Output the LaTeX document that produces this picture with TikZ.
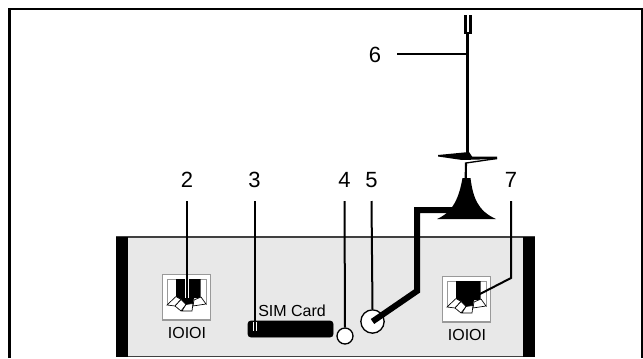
\documentclass[tikz,border=0pt]{standalone}
\usepackage{fontspec}
\setmainfont{Liberation Sans}
\definecolor{panelgray}{HTML}{E8E8E8}
\definecolor{jackgray}{HTML}{999999}
\tikzset{%
  leader/.style = {line width=1.5pt},
  halo/.style = {white,line width=3pt},
  num/.style = {inner sep=0pt,font=\fontsize{16.5}{16.5}\selectfont},
  small/.style = {inner sep=0pt,font=\fontsize{12}{12}\selectfont},
  band/.style = {fill=black,draw=none},
  jackbox/.style = {draw=jackgray,fill=white,line width=0.8pt},
  contact/.style = {fill=white,line width=0.5pt},
  led/.style = {circle,draw,fill=white,line width=1pt,inner sep=0pt}
}

\begin{document}
\begin{tikzpicture}[x=0.75pt,y=-0.75pt]
   \useasboundingbox (0,0) rectangle (643,358);
   % frame
   \draw[line width=1.6pt] (9.5,358) -- (9.5,9) -- (642,9) -- (642,358);
   % housing
   \fill[panelgray] (116,237) rectangle (535,356.5);
   \draw[line width=1.2pt,black!75] (116,237) -- (535,237);
   \draw[line width=0.8pt,black!75] (116,356.5) -- (535,356.5);
   \fill[band] (116,237) rectangle (128,357);
   \fill[band] (523,237) rectangle (535,357);
   % sockets
   \foreach \name/\dx/\dy in {left/0/0,right/280/2}{
     \begin{scope}[shift={(\dx,\dy)}]
       \draw[jackbox] (162.5,274.5) rectangle (210.5,320);
       \draw[jackgray,line width=0.5pt] (167,305) -- (167,279) -- (206,279) -- (206,305);
       \fill (176,279) -- (200.5,279) -- (200.5,298) -- (194,298)
          -- (193,303.5) -- (185,305) -- (181,299) -- (176,297) -- cycle;
       \draw[contact] (176,296.5) -- (167,305) -- (175,306) -- (181,299.5) -- cycle;
       \draw[contact] (181,299.5) -- (175,306) -- (181,311) -- (186,304.5) -- cycle;
       \draw[contact] (186,304.5) -- (182,311) -- (192,311) -- (193,303.5) -- cycle;
       \draw[contact] (194,300) -- (193,306) -- (206,304) -- (201,297) -- cycle;
       \node[small] (io-\name) at (187,333) {IOIOI};
     \end{scope}
   }
   % sim slot
   \node[small,anchor=base west] (simtext) at (258,316) {SIM Card};
   \draw[fill=black,rounded corners=2pt] (248,321) rectangle (333,337);
   \coordinate (slot) at (255,331);
   % cable and aerial foot
   \node[led,minimum size=17.5pt] (five) at (372.5,321.5) {};
   \node[led,minimum size=12pt] (four) at (345,336) {};
   \coordinate (foot) at (462,210);
   \draw[line width=4.5pt,miter limit=10] (five.center) -- (417,291) -- (417,210) -- (foot);
   \fill (462.5,178) -- (470.5,178) .. controls (473,198) and (478,211) .. (496,219)
      -- (437,219) .. controls (453,212) and (459,198) .. (462.5,178) -- cycle;
   % aerial
   \coordinate (tipend) at (467.5,34);
   \coordinate (breaktop) at (467.5,153);
   \coordinate (breakbot) at (465.7,178);
   \draw[line width=1.6pt] (465.5,15) -- (465.5,33) -- (470.5,33) -- (470.5,15);
   \draw[line width=1.6pt] (tipend) -- (breaktop);
   \fill (469,152) -- (438,155) -- (438,156.5) -- (462,160) -- (497,159)
      -- (497,156.5) -- (472,156.5) -- cycle;
   \draw[line width=1pt] (497,158.5) -- (466,163);
   \draw[line width=1.6pt] (466,162.5) -- (breakbot);
   % leaders
   \node[num] (two) at (187,180) {2};
   \node[num] (three) at (254.5,180) {3};
   \node[num] (fourlab) at (344.5,180) {4};
   \node[num] (fivelab) at (371.5,180) {5};
   \node[num] (seven) at (511,180) {7};
   \node[num] (six) at (375,55) {6};
   \coordinate (twoend) at (187,298);
   \coordinate (sevenbend) at (511,278);
   \coordinate (sevenend) at (478,295);
   \coordinate (sixend) at (467,53.5);
   \draw[halo] (187,279) -- (twoend);
   \draw[leader] (187,201) -- (twoend);
   \draw[halo,line width=2.5pt] (255,322) -- (slot);
   \draw[leader] (255,201) -- (slot);
   \draw[leader] (344.5,201) -- (four.north);
   \draw[leader] (371.5,201) -- (five.north);
   \draw[leader] (511,201) -- (sevenbend) -- (sevenend);
   \draw[leader] (397,53.5) -- (sixend);
\end{tikzpicture}
\end{document}
